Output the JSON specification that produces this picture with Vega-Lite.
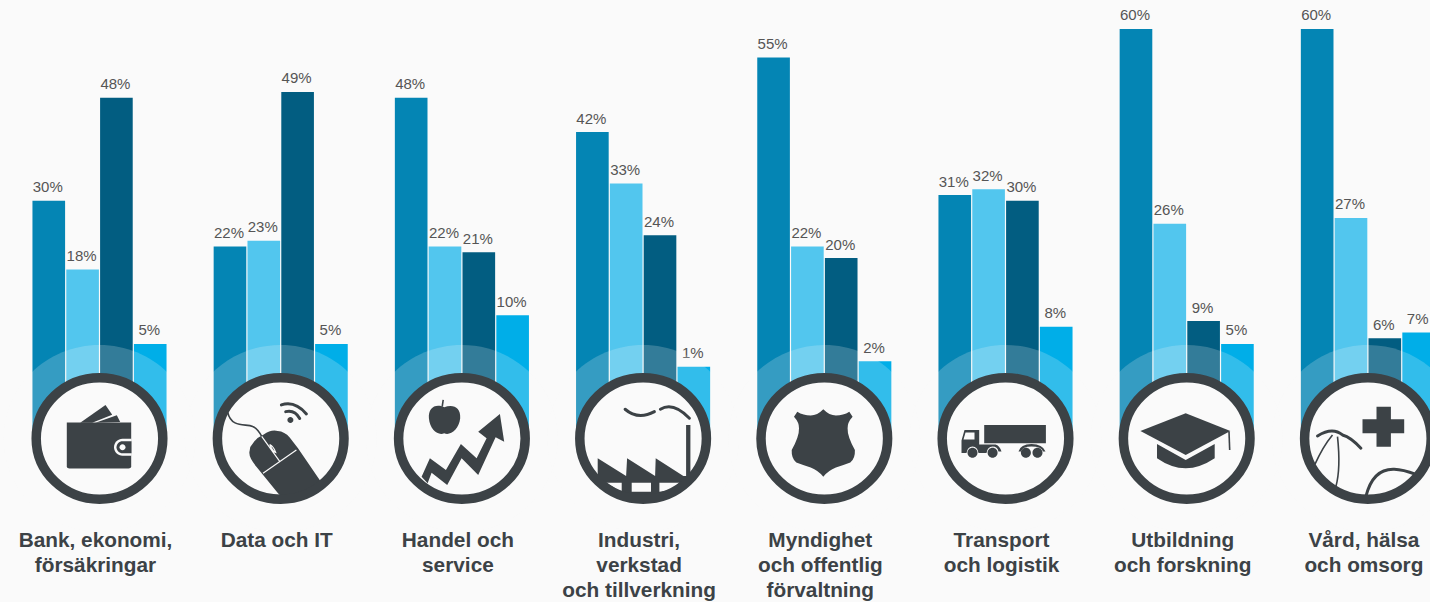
{"$schema":"https://vega.github.io/schema/vega-lite/v6.json","width":1430,"height":602,"padding":0,"autosize":{"type":"none"},"background":"#fafafa","config":{"view":{"stroke":null}},
"datasets":{
"bars":[
{"category":"Bank","series":"A","value":0.30},{"category":"Bank","series":"B","value":0.18},{"category":"Bank","series":"C","value":0.48},{"category":"Bank","series":"D","value":0.05},
{"category":"Data","series":"A","value":0.22},{"category":"Data","series":"B","value":0.23},{"category":"Data","series":"C","value":0.49},{"category":"Data","series":"D","value":0.05},
{"category":"Handel","series":"A","value":0.48},{"category":"Handel","series":"B","value":0.22},{"category":"Handel","series":"C","value":0.21},{"category":"Handel","series":"D","value":0.10},
{"category":"Industri","series":"A","value":0.42},{"category":"Industri","series":"B","value":0.33},{"category":"Industri","series":"C","value":0.24},{"category":"Industri","series":"D","value":0.01},
{"category":"Myndighet","series":"A","value":0.55},{"category":"Myndighet","series":"B","value":0.22},{"category":"Myndighet","series":"C","value":0.20},{"category":"Myndighet","series":"D","value":0.02},
{"category":"Transport","series":"A","value":0.31},{"category":"Transport","series":"B","value":0.32},{"category":"Transport","series":"C","value":0.30},{"category":"Transport","series":"D","value":0.08},
{"category":"Utbildning","series":"A","value":0.60},{"category":"Utbildning","series":"B","value":0.26},{"category":"Utbildning","series":"C","value":0.09},{"category":"Utbildning","series":"D","value":0.05},
{"category":"Vard","series":"A","value":0.60},{"category":"Vard","series":"B","value":0.27},{"category":"Vard","series":"C","value":0.06},{"category":"Vard","series":"D","value":0.07}],
"categories":[
{"category":"Bank","label":"Bank, ekonomi,\nförsäkringar"},{"category":"Data","label":"Data och IT"},{"category":"Handel","label":"Handel och\nservice"},{"category":"Industri","label":"Industri,\nverkstad\noch tillverkning"},{"category":"Myndighet","label":"Myndighet\noch offentlig\nförvaltning"},{"category":"Transport","label":"Transport\noch logistik"},{"category":"Utbildning","label":"Utbildning\noch forskning"},{"category":"Vard","label":"Vård, hälsa\noch omsorg"}],
"fillParts":[
{"category":"Bank","part":"card1"},{"category":"Bank","part":"card2"},{"category":"Bank","part":"wallet"},{"category":"Bank","part":"claspLight"},{"category":"Bank","part":"claspDark"},{"category":"Bank","part":"claspDot"},
{"category":"Data","part":"mouse"},{"category":"Data","part":"wifiDot"},
{"category":"Handel","part":"apple"},{"category":"Handel","part":"arrow"},
{"category":"Industri","part":"factory"},{"category":"Industri","part":"windows"},
{"category":"Myndighet","part":"shield"},
{"category":"Transport","part":"trailer"},{"category":"Transport","part":"cab"},{"category":"Transport","part":"cabWindow"},{"category":"Transport","part":"rearFender"},{"category":"Transport","part":"wheels"},
{"category":"Utbildning","part":"board"},{"category":"Utbildning","part":"capBase"},
{"category":"Vard","part":"cross"}],
"thinParts":[{"category":"Data","part":"cable"},{"category":"Handel","part":"stem"},{"category":"Utbildning","part":"tassel"},{"category":"Vard","part":"tubeA"},{"category":"Vard","part":"tubeB"}],
"thickParts":[{"category":"Data","part":"wifi"},{"category":"Industri","part":"smoke"},{"category":"Vard","part":"earpiece"},{"category":"Vard","part":"chest"}],
"lightParts":[{"category":"Data","part":"mouseLines"}]
},
"encoding":{"x":{"field":"category","type":"nominal","axis":null,"scale":{"domain":["Bank","Data","Handel","Industri","Myndighet","Transport","Utbildning","Vard"],"range":[8.9,1458.5],"paddingInner":0.26,"paddingOuter":0.13}}},
"resolve":{"scale":{"shape":"independent"}},
"layer":[
{"data":{"name":"bars"},"mark":{"type":"bar"},"encoding":{
"xOffset":{"field":"series","type":"nominal","scale":{"paddingInner":0.035,"paddingOuter":0}},
"y":{"field":"value","type":"quantitative","axis":null,"scale":{"domain":[-0.4006,0.6506],"range":[602,0],"nice":false,"zero":false}},
"y2":{"datum":-0.115},
"color":{"field":"series","type":"nominal","legend":null,"scale":{"domain":["A","B","C","D"],"range":["#0485b4","#52c6ee","#025d81","#00aee8"]}}}},
{"data":{"name":"bars"},"mark":{"type":"text","font":"Liberation Sans","fontSize":15,"fill":"#555555","baseline":"alphabetic","align":"center","dy":-8.5,"dx":-1},"encoding":{
"xOffset":{"field":"series","type":"nominal"},
"y":{"field":"value","type":"quantitative"},
"text":{"field":"value","type":"quantitative","format":".0%"}}},
{"data":{"name":"categories"},"mark":{"type":"point","filled":true,"opacity":0.2,"fill":"#fafafa","size":4,"strokeWidth":0,"shape":"M-96,0 A96,93.5 0 1 0 96,0 A96,93.5 0 1 0 -96,0 Z"},"encoding":{"y":{"datum":-0.115}}},
{"data":{"name":"categories"},"mark":{"type":"point","filled":true,"opacity":1,"fill":"#fafafa","size":4,"strokeWidth":0,"shape":"M-64,0 A64,61.5 0 1 0 64,0 A64,61.5 0 1 0 -64,0 Z"},"encoding":{"y":{"datum":-0.115}}},
{"data":{"name":"fillParts"},"mark":{"type":"point","filled":true,"opacity":1,"size":4,"strokeWidth":0},"encoding":{"y":{"datum":-0.115},
"fill":{"field":"part","type":"nominal","legend":null,"scale":{
"domain":["card1","card2","wallet","claspLight","claspDark","claspDot","mouse","wifiDot","apple","arrow","factory","windows","shield","trailer","cab","cabWindow","rearFender","wheels","board","capBase","cross"],
"range":["#3c4246","#3c4246","#3c4246","#fafafa","#3c4246","#fafafa","#3c4246","#3c4246","#3c4246","#3c4246","#3c4246","#fafafa","#3c4246","#3c4246","#3c4246","#fafafa","#3c4246","#3c4246","#3c4246","#3c4246","#3c4246"]}},
"shape":{"field":"part","type":"nominal","legend":null,"scale":{
"domain":["card1","card2","wallet","claspLight","claspDark","claspDot","mouse","wifiDot","apple","arrow","factory","windows","shield","trailer","cab","cabWindow","rearFender","wheels","board","capBase","cross"],
"range":[
"M-19.3,-15.8 L6,-33.5 L12.7,-23.8 L-7.3,-15.8 Z",
"M-4,-15.8 L17.3,-23.2 L20.7,-16.5 Z",
"M-32.7,-16 L31.7,-16 L31.7,28 Q31.7,30 29,30 L-30,30 Q-32.7,30 -32.7,28 Z",
"M23,0.3 L32,0.3 L32,17.3 L23,17.3 A8.5,8.5 0 0 1 23,0.3 Z",
"M23,2.8 L32,2.8 L32,14.8 L23,14.8 A6,6 0 0 1 23,2.8 Z",
"M20,8.8 A3,3 0 1 0 26,8.8 A3,3 0 1 0 20,8.8 Z",
"M-27.7,4.8 Q-24,-1 -17,-4 Q-10,-9 -3,-7.5 Q4,-7 9,-1 L17.3,9.8 L39,41.5 L42,46 L22.3,61 L2.3,60 L-2.7,54.8 L-24.3,28.2 Q-33,18 -31,12 Q-31,8 -27.7,4.8 Z",
"M6.7,-18.5 A3,3 0 1 0 12.7,-18.5 A3,3 0 1 0 6.7,-18.5 Z",
"M-17.7,-31.2 C-27,-35.2 -33.7,-30.2 -33,-20.2 C-32,-8.5 -23.7,-2.5 -17.7,-5.2 C-12,-2.5 -3,-8.5 -1.7,-20.2 C-1,-31.2 -8.7,-34.5 -17.7,-31.2 Z",
"M-40.3,38.2 L-32,19.8 L-16,31.5 L-1,5.5 L14.7,19.8 L24.7,-0.2 L16.3,-6.8 L38,-24.5 L42.3,3.2 L33.7,-1.2 L16.3,36.5 L-0.3,19.8 L-14.7,46.5 L-30.3,34.2 L-34.3,44.8 Z",
"M-45.4,19.8 L-17,37.5 L-16,19.8 L12,37.5 L12.6,19.8 L40.3,37.5 L43,37.5 L43,-13.5 L47.3,-13.5 L47.3,35.5 L43,44.8 L32,55 L-25.4,60 L-45.4,44.8 Z",
"M-37,44.2 L-21.4,44.2 L-21.4,52.8 L-25,51.5 Z M-11.4,44.2 L7.9,44.2 L7.9,53.2 L-11.4,53.2 Z M16.3,44.2 L36.3,44.2 L28,51.5 L16.3,53.2 Z",
"M-1,-29.2 Q-7,-23 -13.6,-23 Q-21,-23 -27,-26.8 L-30.3,-21.8 Q-25,-16 -25.3,-10.2 Q-25,-2 -32.6,11.5 Q-33,20 -28,24 Q-20,27 -13.6,29 Q-6,32 -1,38.2 Q4,32 11.6,29 Q18,27 26,24 Q31,20 30.6,11.5 Q23,-2 23.3,-10.2 Q23,-16 28.3,-21.8 L25,-26.8 Q19,-23 11.6,-23 Q5,-23 -1,-29.2 Z",
"M-21.3,-13.5 L40.4,-13.5 L40.4,4.8 L-21.3,4.8 Z",
"M-44,2 L-41,-8.5 L-26.3,-8.5 L-26.3,6 L-10,6 Q-6,7 -4,13 L-7,13 Q-8,8 -13,8 Q-18,8 -19,14.5 L-27,14.5 Q-28,8 -33,8 Q-38,8 -39,14.5 L-44,14.5 Z",
"M-40,-6 L-31,-6 L-31,1 L-42,1 Z",
"M13,13 Q15,5.5 26,5.5 Q37,5.5 40,13 L37.5,13 Q36,8 26,8 Q17,8 15.5,13 Z",
"M-38,14.2 A5,5 0 1 0 -28,14.2 A5,5 0 1 0 -38,14.2 Z M-17.9,14.2 A5,5 0 1 0 -7.9,14.2 A5,5 0 1 0 -17.9,14.2 Z M15.4,14.2 A5,5 0 1 0 25.4,14.2 A5,5 0 1 0 15.4,14.2 Z M27,14.2 A5,5 0 1 0 37,14.2 A5,5 0 1 0 27,14.2 Z",
"M-1,-25.2 L43.7,-7.5 L-1,16.5 L-46.3,-7.5 Z",
"M-29.7,5.5 L-1,21.5 L28,5.5 L28,19.8 Q13,29.8 -1,29.8 Q-15.3,29.8 -29.7,19.8 Z",
"M8.6,-31.8 L23,-31.8 L23,-19.2 L36.3,-19.2 L36.3,-5.2 L23,-5.2 L23,8.2 L8.6,8.2 L8.6,-5.2 L-5.4,-5.2 L-5.4,-19.2 L8.6,-19.2 Z"]}}}},
{"data":{"name":"thinParts"},"mark":{"type":"point","filled":false,"opacity":1,"size":4,"stroke":"#3c4246","strokeWidth":1.6},"encoding":{"y":{"datum":-0.115},
"shape":{"field":"part","type":"nominal","legend":null,"scale":{"domain":["cable","stem","tassel","tubeA","tubeB"],"range":[
"M-53,-26 C-49,-10 -35,-15 -28,-12 C-23,-10 -21,-6 -19,-2",
"M-19.7,-31.8 L-18.7,-38.5",
"M42.3,-6.8 L43,11.5",
"M-35.4,-3.5 Q-45,8 -53,26",
"M-30.4,-1.8 Q-27,30 -32,48"]}}}},
{"data":{"name":"thickParts"},"mark":{"type":"point","filled":false,"opacity":1,"size":4,"stroke":"#3c4246","strokeWidth":3,"strokeCap":"round"},"encoding":{"y":{"datum":-0.115},
"shape":{"field":"part","type":"nominal","legend":null,"scale":{"domain":["wifi","smoke","earpiece","chest"],"range":[
"M0.7,-33.5 Q14,-38 25.7,-24.5 M5,-26.8 Q14,-29 19,-20",
"M-18,-29.2 Q-5,-18 11.3,-26.8 M17.3,-29.2 Q30,-37 46.3,-20.2",
"M-50.4,-2.5 Q-35.4,-11.8 -25.4,-3.5 Q-17,-1.2 -7,9.8",
"M-2,58 Q5,30 26.3,30.8 Q35,31 48,36"]}}}},
{"data":{"name":"lightParts"},"mark":{"type":"point","filled":false,"opacity":1,"size":4,"stroke":"#fafafa","strokeWidth":1.2},"encoding":{"y":{"datum":-0.115},
"shape":{"field":"part","type":"nominal","legend":null,"scale":{"domain":["mouseLines"],"range":[
"M-17.7,34.8 L15.7,11.5 M-19,-2 L-1,23 M-11,6 Q-7,8 -5,14 Q-8,13 -11,6"]}}}},
{"data":{"name":"categories"},"mark":{"type":"point","filled":false,"opacity":1,"size":4,"stroke":"#3c4246","strokeWidth":9.5,"shape":"M-63.3,0 A63.3,60.8 0 1 0 63.3,0 A63.3,60.8 0 1 0 -63.3,0 Z"},"encoding":{"y":{"datum":-0.115}}},
{"data":{"name":"categories"},"mark":{"type":"text","font":"Liberation Sans","fontWeight":"bold","fontSize":20.8,"fill":"#3c4246","align":"center","baseline":"alphabetic","lineBreak":"\n","lineHeight":25,"dx":-4},"encoding":{"y":{"datum":-0.305},"text":{"field":"label","type":"nominal"}}}
]}
